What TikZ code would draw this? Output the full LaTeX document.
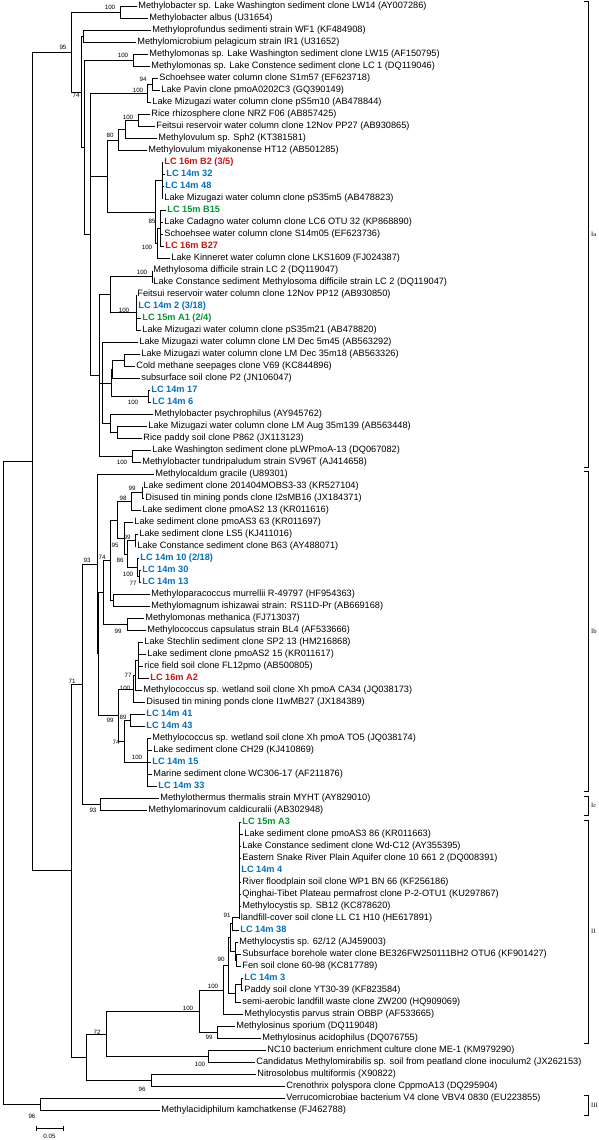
\documentclass[tikz,border=0pt]{standalone}
\usepackage{fontspec}
\setmainfont{Liberation Sans}
\newfontfamily\grpserif{Liberation Serif}
\usepackage{tikz}
\definecolor{lcred}{RGB}{204,20,20}
\definecolor{lcblue}{RGB}{0,112,192}
\definecolor{lcgreen}{RGB}{0,150,50}
\newcommand{\leaffont}{\fontsize{9.2}{10}\selectfont}
\newcommand{\bsfont}{\fontsize{6.2}{7}\selectfont}
\newcommand{\grpfont}{\grpserif\fontsize{6.5}{7}\selectfont}
\tikzset{
  leaf/.style={anchor=west,inner sep=1.2pt,font=\leaffont,text height=6.6pt,text depth=1.9pt},
  lc14/.style={leaf,font=\leaffont\bfseries,text=lcblue},
  lc15/.style={leaf,font=\leaffont\bfseries,text=lcgreen},
  lc16/.style={leaf,font=\leaffont\bfseries,text=lcred},
  bs/.style={font=\bsfont,inner sep=0pt},
  br/.style={line width=0.75pt},
  grp/.style={font=\grpfont,anchor=west,inner sep=0pt}
}
\begin{document}
\begin{tikzpicture}[x=1pt,y=-1pt]
\useasboundingbox (0,0) rectangle (599,1140);
\node[leaf] (l1) at (137,6.5) {Methylobacter sp. Lake Washington sediment clone LW14 (AY007286)};
\node[leaf] (l2) at (148,18.5) {Methylobacter albus (U31654)};
\node[leaf] (l3) at (151,30.5) {Methyloprofundus sedimenti strain WF1 (KF484908)};
\node[leaf] (l4) at (136,42.5) {Methylomicrobium pelagicum strain IR1 (U31652)};
\node[leaf] (l5) at (148,54.5) {Methylomonas sp. Lake Washington sediment clone LW15 (AF150795)};
\node[leaf] (l6) at (150,66.5) {Methylomonas sp. Lake Constence sediment clone LC 1 (DQ119046)};
\node[leaf] (l7) at (158,78.5) {Schoehsee water column clone S1m57 (EF623718)};
\node[leaf] (l8) at (160,90.5) {Lake Pavin clone pmoA0202C3 (GQ390149)};
\node[leaf] (l9) at (151,102.5) {Lake Mizugazi water column clone pS5m10 (AB478844)};
\node[leaf] (l10) at (150,114.5) {Rice rhizosphere clone NRZ F06 (AB857425)};
\node[leaf] (l11) at (155,126.5) {Feitsui reservoir water column clone 12Nov PP27 (AB930865)};
\node[leaf] (l12) at (157,138.5) {Methylovulum sp. Sph2 (KT381581)};
\node[leaf] (l13) at (147,150.5) {Methylovulum miyakonense HT12 (AB501285)};
\node[lc16] (l14) at (163,162.5) {LC 16m B2 (3/5)};
\node[lc14] (l15) at (165,174.5) {LC 14m 32};
\node[lc14] (l16) at (164,186.5) {LC 14m 48};
\node[leaf] (l17) at (163,198.5) {Lake Mizugazi water column clone pS35m5 (AB478823)};
\node[lc15] (l18) at (166,210.5) {LC 15m B15};
\node[leaf] (l19) at (163,222.5) {Lake Cadagno water column clone LC6 OTU 32 (KP868890)};
\node[leaf] (l20) at (163,234.5) {Schoehsee water column clone S14m05 (EF623736)};
\node[lc16] (l21) at (164,246.5) {LC 16m B27};
\node[leaf] (l22) at (170,258.5) {Lake Kinneret water column clone LKS1609 (FJ024387)};
\node[leaf] (l23) at (152,270.5) {Methylosoma difficile strain LC 2 (DQ119047)};
\node[leaf] (l24) at (152,282.5) {Lake Constance sediment Methylosoma difficile strain LC 2 (DQ119047)};
\node[leaf] (l25) at (136,294.5) {Feitsui reservoir water column clone 12Nov PP12 (AB930850)};
\node[lc14] (l26) at (137,306.5) {LC 14m 2 (3/18)};
\node[lc15] (l27) at (141,318.5) {LC 15m A1 (2/4)};
\node[leaf] (l28) at (141,330.5) {Lake Mizugazi water column clone pS35m21 (AB478820)};
\node[leaf] (l29) at (138,342.5) {Lake Mizugazi water column clone LM Dec 5m45 (AB563292)};
\node[leaf] (l30) at (140,354.5) {Lake Mizugazi water column clone LM Dec 35m18 (AB563326)};
\node[leaf] (l31) at (135,366.5) {Cold methane seepages clone V69 (KC844896)};
\node[leaf] (l32) at (140,378.5) {subsurface soil clone P2 (JN106047)};
\node[lc14] (l33) at (150,390.5) {LC 14m 17};
\node[lc14] (l34) at (151,402.5) {LC 14m 6};
\node[leaf] (l35) at (153,414.5) {Methylobacter psychrophilus (AY945762)};
\node[leaf] (l36) at (147,426.5) {Lake Mizugazi water column clone LM Aug 35m139 (AB563448)};
\node[leaf] (l37) at (142,438.5) {Rice paddy soil clone P862 (JX113123)};
\node[leaf] (l38) at (151,450.5) {Lake Washington sediment clone pLWPmoA-13 (DQ067082)};
\node[leaf] (l39) at (141,462.5) {Methylobacter tundripaludum strain SV96T (AJ414658)};
\node[leaf] (l40) at (154,474.5) {Methylocaldum gracile (U89301)};
\node[leaf] (l41) at (142,486.5) {Lake sediment clone 201404MOBS3-33 (KR527104)};
\node[leaf] (l42) at (144,498.5) {Disused tin mining ponds clone I2sMB16 (JX184371)};
\node[leaf] (l43) at (141,510.5) {Lake sediment clone pmoAS2 13 (KR011616)};
\node[leaf] (l44) at (133,522.5) {Lake sediment clone pmoAS3 63 (KR011697)};
\node[leaf] (l45) at (138,534.5) {Lake sediment clone LS5 (KJ411016)};
\node[leaf] (l46) at (136,546.5) {Lake Constance sediment clone B63 (AY488071)};
\node[lc14] (l47) at (139,558.5) {LC 14m 10 (2/18)};
\node[lc14] (l48) at (141,570.5) {LC 14m 30};
\node[lc14] (l49) at (141,582.5) {LC 14m 13};
\node[leaf] (l50) at (150,594.5) {Methyloparacoccus murrellii R-49797 (HF954363)};
\node[leaf] (l51) at (150,606.5) {Methylomagnum ishizawai strain: RS11D-Pr (AB669168)};
\node[leaf] (l52) at (144,618.5) {Methylomonas methanica (FJ713037)};
\node[leaf] (l53) at (146,630.5) {Methylococcus capsulatus strain BL4 (AF533666)};
\node[leaf] (l54) at (143,642.5) {Lake Stechlin sediment clone SP2 13 (HM216868)};
\node[leaf] (l55) at (146,654.5) {Lake sediment clone pmoAS2 15 (KR011617)};
\node[leaf] (l56) at (143,666.5) {rice field soil clone FL12pmo (AB500805)};
\node[lc16] (l57) at (149,678.5) {LC 16m A2};
\node[leaf] (l58) at (142,690.5) {Methylococcus sp. wetland soil clone Xh pmoA CA34 (JQ038173)};
\node[leaf] (l59) at (145,702.5) {Disused tin mining ponds clone I1wMB27 (JX184389)};
\node[lc14] (l60) at (145,714.5) {LC 14m 41};
\node[lc14] (l61) at (145,726.5) {LC 14m 43};
\node[leaf] (l62) at (151,738.5) {Methylococcus sp. wetland soil clone Xh pmoA TO5 (JQ038174)};
\node[leaf] (l63) at (152,750.5) {Lake sediment clone CH29 (KJ410869)};
\node[lc14] (l64) at (151,762.5) {LC 14m 15};
\node[leaf] (l65) at (152,774.5) {Marine sediment clone WC306-17 (AF211876)};
\node[lc14] (l66) at (157,786.5) {LC 14m 33};
\node[leaf] (l67) at (159,798.5) {Methylothermus thermalis strain MYHT (AY829010)};
\node[leaf] (l68) at (147,810.5) {Methylomarinovum caldicuralii (AB302948)};
\node[lc15] (l69) at (241,822.5) {LC 15m A3};
\node[leaf] (l70) at (243,834.5) {Lake sediment clone pmoAS3 86 (KR011663)};
\node[leaf] (l71) at (241,846.5) {Lake Constance sediment clone Wd-C12 (AY355395)};
\node[leaf] (l72) at (241,858.5) {Eastern Snake River Plain Aquifer clone 10 661 2 (DQ008391)};
\node[lc14] (l73) at (240,870.5) {LC 14m 4};
\node[leaf] (l74) at (241,882.5) {River floodplain soil clone WP1 BN 66 (KF256186)};
\node[leaf] (l75) at (241,894.5) {Qinghai-Tibet Plateau permafrost clone P-2-OTU1 (KU297867)};
\node[leaf] (l76) at (241,906.5) {Methylocystis sp. SB12 (KC878620)};
\node[leaf] (l77) at (239.5,918.5) {landfill-cover soil clone LL C1 H10 (HE617891)};
\node[lc14] (l78) at (239,930.5) {LC 14m 38};
\node[leaf] (l79) at (238,942.5) {Methylocystis sp. 62/12 (AJ459003)};
\node[leaf] (l80) at (241,954.5) {Subsurface borehole water clone BE326FW250111BH2 OTU6 (KF901427)};
\node[leaf] (l81) at (241,966.5) {Fen soil clone 60-98 (KC817789)};
\node[lc14] (l82) at (243,978.5) {LC 14m 3};
\node[leaf] (l83) at (243,990.5) {Paddy soil clone YT30-39 (KF823584)};
\node[leaf] (l84) at (241,1002.5) {semi-aerobic landfill waste clone ZW200 (HQ909069)};
\node[leaf] (l85) at (243,1014.5) {Methylocystis parvus strain OBBP (AF533665)};
\node[leaf] (l86) at (235,1026.5) {Methylosinus sporium (DQ119048)};
\node[leaf] (l87) at (261,1038.5) {Methylosinus acidophilus (DQ076755)};
\node[leaf] (l88) at (266,1050.5) {NC10 bacterium enrichment culture clone ME-1 (KM979290)};
\node[leaf] (l89) at (255,1062.5) {Candidatus Methylomirabilis sp. soil from peatland clone inoculum2 (JX262153)};
\node[leaf] (l90) at (256,1074.5) {Nitrosolobus multiformis (X90822)};
\node[leaf] (l91) at (285,1086.5) {Crenothrix polyspora clone CppmoA13 (DQ295904)};
\node[leaf] (l92) at (285,1098.5) {Verrucomicrobiae bacterium V4 clone VBV4 0830 (EU223855)};
\node[leaf] (l93) at (160,1110.5) {Methylacidiphilum kamchatkense (FJ462788)};
\coordinate (root) at (3,783);
\coordinate (nA32) at (32,461.5);
\coordinate (nX95) at (71,52.25);
\coordinate (n12) at (120,12.5);
\coordinate (nX74) at (81,92);
\coordinate (n34) at (83,36.5);
\coordinate (nY) at (84,147.5);
\coordinate (n56) at (133,60.5);
\coordinate (nZ) at (90,234.5);
\coordinate (n79) at (147,93.5);
\coordinate (n78) at (152,84.5);
\coordinate (nV) at (107,176);
\coordinate (n80) at (118,140);
\coordinate (n1012) at (125,129.5);
\coordinate (n1011) at (138,120.5);
\coordinate (t4) at (155,212);
\coordinate (t1) at (162,180.5);
\coordinate (t3) at (157,243.5);
\coordinate (t2) at (160,228.5);
\coordinate (nQ) at (99,375.5);
\coordinate (nM) at (110,294.5);
\coordinate (n2324) at (152,276.5);
\coordinate (nF) at (136,312.5);
\coordinate (nQ2) at (102,383);
\coordinate (nR) at (111,383);
\coordinate (nR1) at (112,369.5);
\coordinate (n3031) at (124,360.5);
\coordinate (n3334) at (148,396.5);
\coordinate (nS) at (110,423.5);
\coordinate (n3637) at (117,432.5);
\coordinate (n3839) at (132,456.5);
\coordinate (n71c) at (71,870.75);
\coordinate (n71) at (82,684.3);
\coordinate (n93) at (97,564.15);
\coordinate (n97b) at (98,653.8);
\coordinate (n103) at (103,592.35);
\coordinate (n110) at (110,560.2);
\coordinate (n117) at (117,519.9);
\coordinate (n98) at (131,501.5);
\coordinate (n4142) at (142,492.5);
\coordinate (n95) at (124,538.25);
\coordinate (n86) at (127,554);
\coordinate (n4546) at (135,540.5);
\coordinate (n4749) at (137,567.5);
\coordinate (n4849) at (139,576.5);
\coordinate (n5051) at (113,600.5);
\coordinate (n5253) at (127,624.5);
\coordinate (n99b) at (118,715.25);
\coordinate (n100c) at (133,689);
\coordinate (n77b) at (135,675.5);
\coordinate (nA) at (138,660.5);
\coordinate (n74c) at (124,741.5);
\coordinate (n89) at (130,720.5);
\coordinate (n100d) at (147,762.5);
\coordinate (nIc) at (100,804.5);
\coordinate (n86b) at (86,1057.2);
\coordinate (n72) at (106,1033.9);
\coordinate (nII) at (199,1011.25);
\coordinate (nCyst) at (223,990);
\coordinate (n90) at (228,965.5);
\coordinate (n230) at (230,937.6);
\coordinate (n91) at (232,923.75);
\coordinate (n240) at (239,917);
\coordinate (n235) at (235,951.5);
\coordinate (n236) at (236,960.5);
\coordinate (n235b) at (235,993.5);
\coordinate (n241) at (241,984.5);
\coordinate (nSinus) at (217,1032.5);
\coordinate (nNC) at (208,1056.5);
\coordinate (n96b) at (151,1080.5);
\coordinate (nVerr) at (40,1104.5);
\foreach \p/\c in {n12/l1,n12/l2,n34/l3,n34/l4,n56/l5,n56/l6,n78/l7,n78/l8,n79/l9,n1011/l10,n1011/l11,n1012/l12,n80/l13,
  t1/l14,t1/l15,t1/l16,t1/l17,t2/l18,t2/l19,t2/l20,t2/l21,t3/l22,n2324/l23,n2324/l24,nF/l25,nF/l26,nF/l27,nF/l28,
  nQ2/l29,n3031/l30,n3031/l31,nR1/l32,n3334/l33,n3334/l34,nS/l35,n3637/l36,n3637/l37,n3839/l38,n3839/l39,
  n93/l40,n4142/l41,n4142/l42,n98/l43,n95/l44,n4546/l45,n4546/l46,n4749/l47,n4849/l48,n4849/l49,n5051/l50,n5051/l51,
  n5253/l52,n5253/l53,nA/l54,nA/l55,nA/l56,nA/l57,n77b/l58,n100c/l59,n89/l60,n89/l61,n100d/l62,n100d/l63,n100d/l64,
  n100d/l65,n100d/l66,nIc/l67,nIc/l68,n240/l69,n240/l70,n240/l71,n240/l72,n240/l73,n240/l74,n240/l75,n240/l76,n240/l77,
  n91/l78,n235/l79,n236/l80,n236/l81,n241/l82,n241/l83,n235b/l84,nCyst/l85,nSinus/l86,nSinus/l87,nNC/l88,nNC/l89,
  n96b/l90,n96b/l91,nVerr/l92,nVerr/l93}
  \draw[br] (\p) |- (\c.west);
\foreach \p/\c in {nX95/n12,nX95/nX74,nX74/n34,nX74/nY,nY/n56,nY/nZ,nZ/n79,n79/n78,nZ/nV,nV/n80,n80/n1012,n1012/n1011,
  nV/t4,t4/t1,t4/t3,t3/t2,nZ/nQ,nQ/nM,nM/n2324,nM/nF,nQ/nQ2,nQ2/nR,nR/nR1,nR1/n3031,nR/n3334,nQ2/nS,nS/n3637,nQ/n3839,
  nA32/nX95,nA32/n71c,n71c/n71,n71/n93,n93/n97b,n97b/n103,n103/n110,n110/n117,n117/n98,n98/n4142,n117/n95,n95/n86,
  n86/n4546,n86/n4749,n4749/n4849,n110/n5051,n103/n5253,n97b/n99b,n99b/n100c,n100c/n77b,n77b/nA,n99b/n74c,n74c/n89,
  n74c/n100d,n71/nIc,n71c/n86b,n86b/n72,n72/nII,nII/nCyst,nCyst/n90,n90/n230,n230/n91,n91/n240,n230/n235,n235/n236,
  n90/n235b,n235b/n241,nII/nSinus,n72/nNC,n86b/n96b,root/nA32,root/nVerr}
  \draw[br] (\p) |- (\c);
\foreach \x/\y/\v [count=\i] in {110/7/100,63/47/95,76/95/74,123/55/100,143/79/94,138/90/100,128/117/100,110/135/80,
  152/221/85,147/247/100,142/272/100,124/310/100,133/402/100,122/462/100,132/488/99,123/498/98,127/537/99,115/545/95,
  87/560/93,102/557/74,120/560/86,128/574/100,133/583/77,118/631/99,128/675/77,72/681/71,125/688/100,123/717/89,
  110/720/99,116/742/74,137/757/100,93/810/93,227/915/91,221/959/90,213/986/100,188/1008/100,97/1032/72,209/1037/99,
  200/1064/100,142/1089/96,32/1116/96}
  \node[bs] (b\i) at (\x,\y) {\v};
\coordinate (sb1) at (36,1128);
\coordinate (sb2) at (63,1128);
\draw[br] (sb1) -- (sb2);
\draw[br] ([yshift=-2.5pt]sb1) -- ([yshift=2.5pt]sb1);
\draw[br] ([yshift=-2.5pt]sb2) -- ([yshift=2.5pt]sb2);
\node[bs] (sbl) at (49.5,1136) {0.05};
\foreach \a/\b/\m/\t in {1.5/467.5/Ia/Ia,471.5/791/Ib/Ib,796/815.5/Ic/Ic,820/1043.5/II/II,1095/1115/III/III}
  {\draw[br] (584,\a) -- (588,\a) -- (588,\b) -- (584,\b);
   \node[grp] (g\m) at (591,{(\a+\b)/2}) {\t};}
\end{tikzpicture}
\end{document}
